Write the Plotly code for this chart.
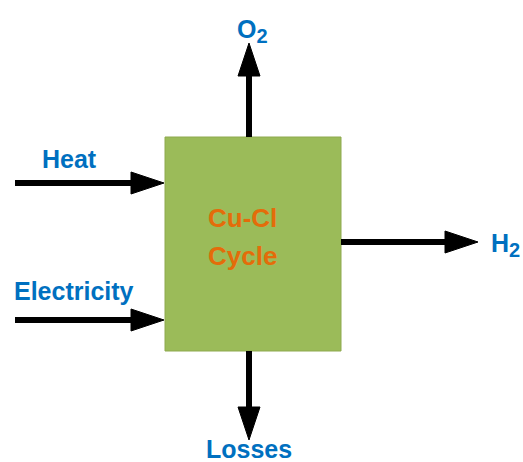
import plotly.graph_objects as go

# process block and its streams
block_label = ["Cu-Cl", "Cycle"]
inputs = ["Heat", "Electricity"]
outputs = [
    "O<sub><span style='font-size:20px'>2</span></sub>",
    "H<sub><span style='font-size:20px'>2</span></sub>",
    "Losses",
]

BLUE = "#0070C0"
ORANGE = "#E46C0A"
GREEN = "#9BBB59"
FONT = "Liberation Sans, Arial, sans-serif"

W, H = 523, 462
box = dict(x0=165, y0=137, x1=341, y1=351)
cx = 249

# arrows: (x_start, y_start, x_tip, y_tip)
arrows = [
    (15, 183, 164, 183),     # heat
    (15, 320, 164, 320),     # electricity
    (cx, 137, cx, 43),       # O2
    (341, 242, 478, 242),    # H2
    (cx, 351, cx, 440),      # losses
]
label_pos = [(69, 159), (74, 291), (252, 31), (505, 245), (cx, 449)]

fig = go.Figure()
shapes = [dict(type="rect", **box, fillcolor=GREEN, line=dict(color="#8EA94F", width=1), layer="below")]

head_len, head_half = 33, 11
for x0, y0, x1, y1 in arrows:
    if y0 == y1:
        d = 1 if x1 > x0 else -1
        bx = x1 - d * head_len
        shapes.append(dict(type="line", x0=x0, y0=y0, x1=bx, y1=y1, line=dict(color="black", width=6)))
        path = f"M {bx},{y1 - head_half} L {x1},{y1} L {bx},{y1 + head_half} Z"
    else:
        d = 1 if y1 > y0 else -1
        by = y1 - d * head_len
        shapes.append(dict(type="line", x0=x0, y0=y0, x1=x1, y1=by, line=dict(color="black", width=6)))
        path = f"M {x1 - head_half},{by} L {x1},{y1} L {x1 + head_half},{by} Z"
    shapes.append(dict(type="path", path=path, fillcolor="black", line=dict(color="black", width=1)))

annotations = []
for text, (x, y) in zip(inputs + outputs, label_pos):
    annotations.append(dict(x=x, y=y, text=f"<b>{text}</b>", showarrow=False,
                            font=dict(family=FONT, size=25, color=BLUE),
                            xanchor="center", yanchor="middle"))
for i, text in enumerate(block_label):
    annotations.append(dict(x=242, y=218 + i * 38, text=f"<b>{text}</b>", showarrow=False,
                            font=dict(family=FONT, size=26, color=ORANGE),
                            xanchor="center", yanchor="middle"))

fig.update_layout(
    width=W, height=H,
    margin=dict(l=0, r=0, t=0, b=0),
    paper_bgcolor="white", plot_bgcolor="white",
    shapes=shapes, annotations=annotations,
    showlegend=False,
)
fig.update_xaxes(range=[0, W], visible=False, fixedrange=True)
fig.update_yaxes(range=[H, 0], visible=False, fixedrange=True)

fig.write_html("out.html", config={"displayModeBar": False},
               post_script="document.body.style.margin='0';")
